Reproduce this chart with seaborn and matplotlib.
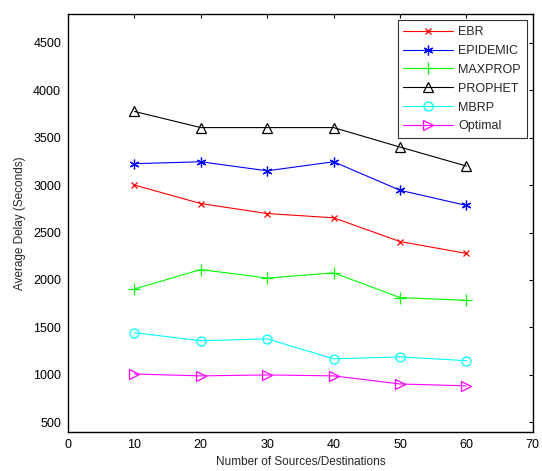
import matplotlib
matplotlib.use("Agg")
import matplotlib.pyplot as plt
import pandas as pd
import seaborn as sns

# Data #

sources = [10, 20, 30, 40, 50, 60]

ebr = [3000, 2805, 2700, 2655, 2405, 2280]
epidemic = [3225, 3245, 3150, 3245, 2945, 2785]
maxprop = [1905, 2110, 2020, 2075, 1815, 1785]
prophet = [3775, 3605, 3605, 3605, 3400, 3200]
mbrp = [1445, 1360, 1380, 1170, 1190, 1150]
optimal = [1010, 990, 1000, 990, 905, 885]

series_names = ["EBR", "EPIDEMIC", "MAXPROP", "PROPHET", "MBRP", "Optimal"]
series_values = [ebr, epidemic, maxprop, prophet, mbrp, optimal]

colors = ["#ff0000", "#0000ff", "#00ff00", "#000000", "#00ffff", "#ff00ff"]
markers = ["x", (6, 2, 0), "+", "^", "o", ">"]
msizes = [4, 7, 8, 7, 6.5, 7]

# Plot #

sns.set_style("white")
plt.rcParams['font.family'] = ['Liberation Sans', 'DejaVu Sans']
plt.rcParams['font.size'] = 9

fig = plt.figure(figsize=(5.42, 4.71), dpi=100)
ax = fig.add_axes([0.1255, 0.083, 0.8575, 0.887])

for name, values, col, mk, ms in zip(series_names, series_values, colors, markers, msizes):
    df = pd.DataFrame({"x": sources, "y": values})
    sns.lineplot(data=df, x="x", y="y", ax=ax, color=col, marker=mk, markersize=ms,
                 markerfacecolor="none", markeredgecolor=col, markeredgewidth=0.9,
                 linewidth=0.8, label=name)

ax.set(xlim=(0, 70), ylim=(400, 4800))
ax.set_xticks(range(0, 71, 10))
ax.set_yticks(range(500, 4501, 500))
ax.set_xlabel("Number of Sources/Destinations", fontsize=8.5, labelpad=4)
ax.set_ylabel("Average Delay (Seconds)", fontsize=8.5, labelpad=5)
ax.tick_params(direction="in", length=3, width=0.8, top=True, right=True,
               labelsize=9, colors="black", pad=5)
for sp in ax.spines.values():
    sp.set_color("black")
    sp.set_linewidth(1.0)

leg = ax.legend(loc="upper right", fontsize=9, frameon=True, fancybox=False,
                handlelength=4.0, borderpad=0.45, labelspacing=0.55,
                handletextpad=0.4, borderaxespad=0.5)
leg.get_frame().set_edgecolor("black")
leg.get_frame().set_linewidth(0.8)

plt.savefig("out.png", format="png", dpi=100)
